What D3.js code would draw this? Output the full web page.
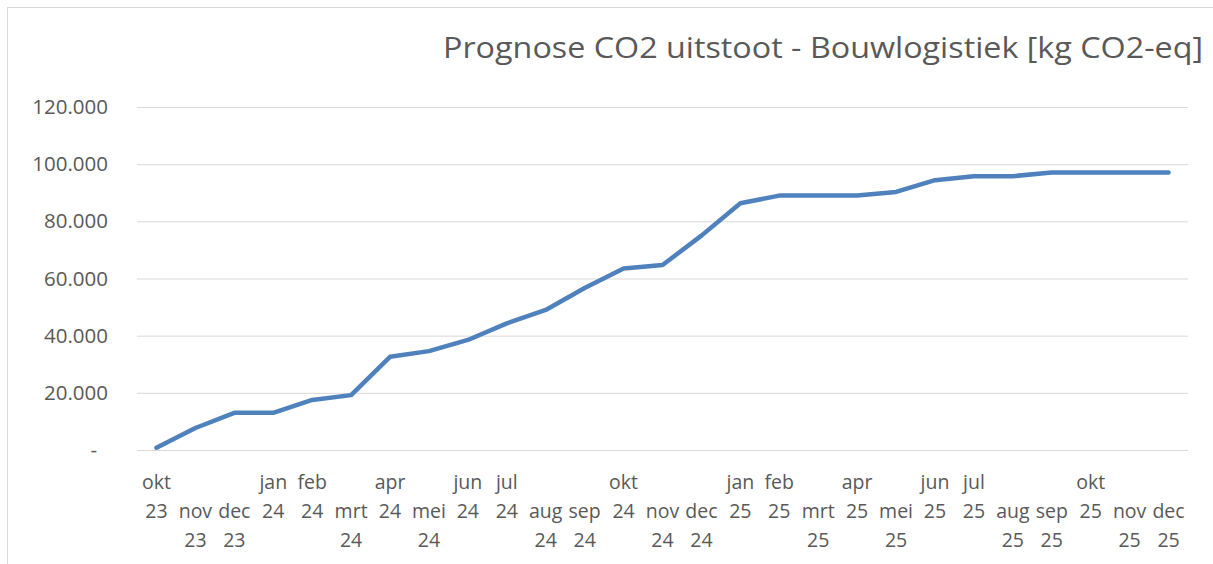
<!DOCTYPE html>
<html>
<head>
<meta charset="utf-8">
<script src="https://cdn.jsdelivr.net/npm/d3@7"></script>
<style>
  body { margin: 0; background: #fff; }
  svg text { font-family: "Open Sans", sans-serif; fill: #595959; }
</style>
</head>
<body>
<div id="chart"></div>
<script>
// months shown on the x axis (okt 23 .. dec 25)
var months = ["okt 23","nov 23","dec 23","jan 24","feb 24","mrt 24","apr 24","mei 24","jun 24",
  "jul 24","aug 24","sep 24","okt 24","nov 24","dec 24","jan 25","feb 25","mrt 25","apr 25",
  "mei 25","jun 25","jul 25","aug 25","sep 25","okt 25","nov 25","dec 25"]

// cumulative kg CO2-eq
var co2 = [800, 7700, 13000, 13000, 17500, 19200, 32600, 34600, 38500,
  44300, 49000, 56700, 63500, 64700, 75000, 86300, 89000, 89000, 89000,
  90300, 94400, 95800, 95800, 97100, 97100, 97100, 97100]

var yTicks = [0, 20000, 40000, 60000, 80000, 100000, 120000]

// months whose label sits one line lower (how Excel wrapped them)
var lowMonths = ["nov", "dec", "mrt", "mei", "aug", "sep"]

var W = 1213, H = 564
var margin = {top: 107, right: 25, bottom: 114, left: 137}
var width = W - margin.left - margin.right
var height = H - margin.top - margin.bottom

var svg = d3.select("#chart").append("svg")
  .attr("width", W)
  .attr("height", H)

// chart border
svg.append("rect")
  .attr("x", 7.5).attr("y", 7.5)
  .attr("width", W).attr("height", H)
  .attr("fill", "none")
  .attr("stroke", "#d9d9d9")

svg.append("text")
  .attr("x", 1203).attr("y", 58)
  .attr("text-anchor", "end")
  .attr("textLength", 760)
  .attr("lengthAdjust", "spacingAndGlyphs")
  .style("font-size", "29px")
  .text("Prognose CO2 uitstoot - Bouwlogistiek [kg CO2-eq]")

var g = svg.append("g")
  .attr("transform", "translate(" + margin.left + "," + margin.top + ")")

var xScale = d3.scaleBand().domain(months).range([0, width]).padding(0)
var yScale = d3.scaleLinear().domain([0, 120000]).range([height, 0])

// gridlines
var grid = g.append("g")
  .call(d3.axisLeft(yScale).tickValues(yTicks).tickSize(-width).tickFormat(""))
grid.select(".domain").remove()
grid.selectAll("line").attr("stroke", "#d9d9d9").attr("stroke-width", 1)

// y axis labels
var yA = g.append("g")
  .call(d3.axisLeft(yScale).tickValues(yTicks).tickSize(0).tickPadding(29)
    .tickFormat(function(v) { return v == 0 ? "-" : d3.format(",")(v).replace(/,/g, ".") }))
yA.select(".domain").remove()
yA.selectAll("text")
  .style("font-size", "20.5px")
  .attr("fill", null)
  .attr("dx", function(v) { return v == 0 ? -11 : 0 })

// x labels, wrapped into two lines
var xl = g.append("g").selectAll("text")
  .data(months)
  .enter().append("text")
  .attr("text-anchor", "middle")
  .style("font-size", "19.5px")
  .attr("transform", function(d) { return "translate(" + (xScale(d) + xScale.bandwidth() / 2) + ",0)" })

xl.each(function(d) {
  var parts = d.split(" ")
  var shift = lowMonths.indexOf(parts[0]) >= 0 ? 1 : 0
  var t = d3.select(this)
  parts.forEach(function(p, i) {
    t.append("tspan").attr("x", 0).attr("y", height + 39 + (i + shift) * 29).text(p)
  })
})

var line = d3.line()
  .x(function(d, i) { return xScale(months[i]) + xScale.bandwidth() / 2 })
  .y(function(d) { return yScale(d) })

g.append("path")
  .attr("d", line(co2))
  .attr("fill", "none")
  .attr("stroke", "#4f81bd")
  .attr("stroke-width", 4.5)
  .attr("stroke-linejoin", "round")
  .attr("stroke-linecap", "round")
</script>
</body>
</html>
